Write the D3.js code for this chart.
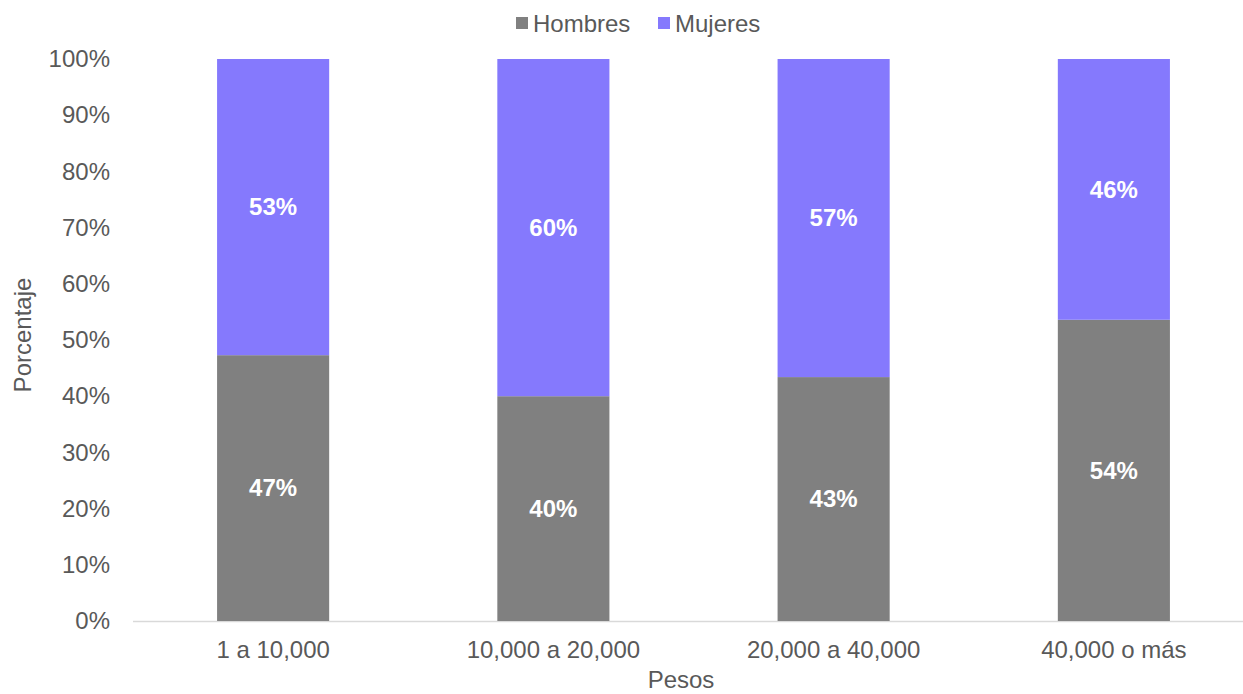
<!DOCTYPE html>
<html><head><meta charset="utf-8">
<script src="https://cdn.jsdelivr.net/npm/d3@7"></script>
<style>body{margin:0;background:#fff}svg{display:block}text{font-family:"Liberation Sans",Arial,sans-serif}</style>
</head><body><svg id="c" width="1243" height="694"></svg>
<script>
const categories = ["1 a 10,000", "10,000 a 20,000", "20,000 a 40,000", "40,000 o más"];
const hombres = [47.3, 40.0, 43.4, 53.6];
const mujeres = [52.7, 60.0, 56.6, 46.4];
const hombresLabels = ["47%", "40%", "43%", "54%"];
const mujeresLabels = ["53%", "60%", "57%", "46%"];
const yTicks = [0,10,20,30,40,50,60,70,80,90,100];
const seriesNames = ["Hombres", "Mujeres"];
const colors = ["#808080", "#8579FD"];
const FS = 24;

const svg = d3.select("#c");
const x = d3.scaleBand().domain(categories).range([133, 1254]).paddingInner(0.6).paddingOuter(0.3);
const y = d3.scaleLinear().domain([0, 100]).range([621, 59]);

svg.append("line").attr("x1", 133).attr("x2", 1243).attr("y1", y(0)+0.5).attr("y2", y(0)+0.5)
  .attr("stroke", "#d9d9d9").attr("stroke-width", 1.5);

const data = categories.map((c,i)=>({c, h:hombres[i], m:mujeres[i], hl:hombresLabels[i], ml:mujeresLabels[i]}));
const g = svg.append("g");
g.selectAll(".h").data(data).join("rect")
  .attr("x", d=>x(d.c)).attr("width", x.bandwidth())
  .attr("y", d=>y(d.h)).attr("height", d=>y(0)-y(d.h)).attr("fill", colors[0]);
g.selectAll(".m").data(data).join("rect")
  .attr("x", d=>x(d.c)).attr("width", x.bandwidth())
  .attr("y", d=>y(d.h+d.m)).attr("height", d=>y(d.h)-y(d.h+d.m)).attr("fill", colors[1]);

g.selectAll(".hl").data(data).join("text")
  .attr("x", d=>x(d.c)+x.bandwidth()/2).attr("y", d=>y(d.h/2)).attr("dy","0.35em")
  .attr("text-anchor","middle").attr("fill","#fff").attr("font-weight","bold").attr("font-size",FS)
  .text(d=>d.hl);
g.selectAll(".ml").data(data).join("text")
  .attr("x", d=>x(d.c)+x.bandwidth()/2).attr("y", d=>y(d.h+d.m/2)).attr("dy","0.35em")
  .attr("text-anchor","middle").attr("fill","#fff").attr("font-weight","bold").attr("font-size",FS)
  .text(d=>d.ml);

const ya = svg.append("g").attr("transform","translate(110,0)")
  .call(d3.axisLeft(y).tickValues(yTicks).tickFormat(d=>d+"%").tickSize(0).tickPadding(0));
ya.select(".domain").remove();
ya.selectAll("text").attr("font-size",FS).attr("fill","#595959").attr("font-family","Liberation Sans, Arial, sans-serif");

const xa = svg.append("g").attr("transform",`translate(0,${y(0)})`)
  .call(d3.axisBottom(x).tickSize(0).tickPadding(20));
xa.select(".domain").remove();
xa.selectAll("text").attr("font-size",FS).attr("fill","#595959").attr("font-family","Liberation Sans, Arial, sans-serif");

svg.append("text").attr("x",681).attr("y",688).attr("text-anchor","middle")
  .attr("font-size",FS).attr("fill","#595959").text("Pesos");
svg.append("text").attr("transform","translate(31,335) rotate(-90)").attr("text-anchor","middle")
  .attr("font-size",FS).attr("fill","#595959").text("Porcentaje");

const legX = [516, 658];
seriesNames.forEach((s,i)=>{
  svg.append("rect").attr("x",legX[i]).attr("y",17).attr("width",12).attr("height",12).attr("fill",colors[i]);
  svg.append("text").attr("x",legX[i]+17).attr("y",32).attr("font-size",FS).attr("fill","#595959").text(s);
});
</script></body></html>
